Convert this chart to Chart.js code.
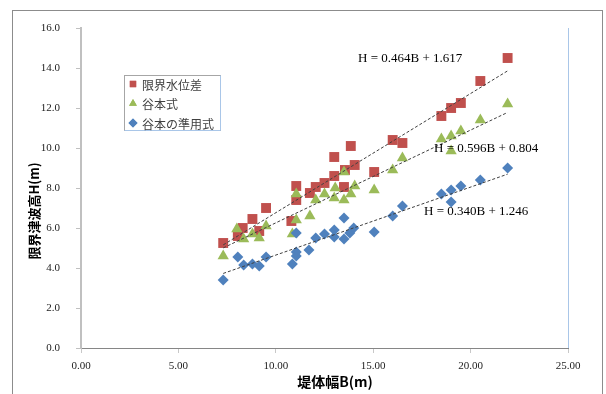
<!DOCTYPE html>
<html>
<head>
<meta charset="utf-8">
<script src="https://cdn.jsdelivr.net/npm/chart.js@4.4.0/dist/chart.umd.min.js"></script>
<style>
  html, body { margin: 0; padding: 0; background: #fff; }
</style>
</head>
<body>
<canvas id="chart" width="606" height="394"></canvas>
<script>
    "use strict";

    // Series names (legend order)
    var seriesNames = ["限界水位差", "谷本式", "谷本の準用式"];

    // 限界水位差 (red squares)
    var redB = [7.3, 8.05, 8.3, 8.8, 9.15, 9.5, 10.8, 11.05, 11.05, 11.75, 12.05, 12.5, 13.0,
                13.0, 13.5, 13.55, 13.85, 14.05, 15.05, 16.0, 16.5, 18.5, 19.0, 19.5, 20.5, 21.9];
    var redH = [5.25, 5.6, 6.0, 6.45, 5.85, 7.0, 6.35, 7.4, 8.1, 7.75, 8.05, 8.25, 8.6,
                9.55, 8.05, 8.9, 10.1, 9.15, 8.8, 10.4, 10.25, 11.6, 12.0, 12.25, 13.35, 14.5];

    // 谷本式 (green triangles)
    var greenB = [7.3, 8.0, 8.35, 8.8, 9.15, 9.5, 10.85, 11.05, 11.05, 11.75, 12.05, 12.5, 13.0,
                  13.05, 13.5, 13.5, 13.85, 14.05, 15.05, 16.0, 16.5, 18.5, 19.0, 19.0, 19.5, 20.5, 21.9];
    var greenH = [4.6, 5.95, 5.45, 5.7, 5.5, 6.1, 5.7, 6.4, 7.7, 6.6, 7.4, 7.7, 7.5,
                  8.0, 7.4, 8.8, 7.7, 8.1, 7.9, 8.9, 9.5, 10.45, 10.6, 9.85, 10.85, 11.4, 12.2];

    // 谷本の準用式 (blue diamonds)
    var blueB = [7.3, 8.05, 8.35, 8.8, 9.15, 9.5, 10.85, 11.05, 11.05, 11.05, 11.7, 12.05, 12.5, 13.0,
                 13.0, 13.5, 13.5, 13.8, 14.0, 15.05, 16.0, 16.5, 18.5, 19.0, 19.0, 19.5, 20.5, 21.9];
    var blueH = [3.4, 4.55, 4.15, 4.2, 4.1, 4.55, 4.2, 4.6, 4.8, 5.75, 4.9, 5.5, 5.7, 5.55,
                 5.9, 5.45, 6.5, 5.75, 6.0, 5.8, 6.6, 7.1, 7.7, 7.9, 7.3, 8.1, 8.4, 9.0];

    // Trendline equations shown on the chart (H = a*B + b)
    var trendSlope = [0.596, 0.464, 0.340];
    var trendIntercept = [0.804, 1.617, 1.246];

    // Axis tick labels
    var xTicks = [0, 5, 10, 15, 20, 25];
    var yTicks = [0, 2, 4, 6, 8, 10, 12, 14, 16];

    var colors = ["#C0504D", "#9BBB59", "#4F81BD"];
    var styles = ["rect", "triangle", "rectRot"];

    function points(xs, ys) {
        return xs.map(function (x, i) { return {x: x, y: ys[i]}; });
    }

    function trend(xs, i) {
        var lo = Math.min.apply(null, xs), hi = Math.max.apply(null, xs);
        return [
            {x: lo, y: trendSlope[i] * lo + trendIntercept[i]},
            {x: hi, y: trendSlope[i] * hi + trendIntercept[i]}
        ];
    }

    function eqText(i) {
        return "H = " + trendSlope[i].toFixed(3) + "B + " + trendIntercept[i].toFixed(3);
    }

    var allB = [redB, greenB, blueB];

    // Extra drawing: frame, legend box, equations, axis titles
    var decor = {
        id: "decor",
        beforeDraw: function (chart) {
            var c = chart.ctx;
            c.save();
            c.fillStyle = "#fff";
            c.fillRect(0, 0, chart.width, chart.height);
            c.strokeStyle = "#8c8c8c";
            c.lineWidth = 1;
            c.strokeRect(12.5, 10.5, 590, 400);
            c.restore();
        },
        afterDraw: function (chart) {
            var c = chart.ctx, a = chart.chartArea;
            var xs = chart.scales.x, ys = chart.scales.y;
            c.save();

            // plot area right edge
            c.strokeStyle = "#a9c6e8";
            c.lineWidth = 1;
            c.beginPath();
            c.moveTo(Math.round(a.right) + 0.5, a.top);
            c.lineTo(Math.round(a.right) + 0.5, a.bottom);
            c.stroke();

            // legend
            c.fillStyle = "#fff";
            c.fillRect(124, 75, 96, 55);
            c.strokeStyle = "#a6a6a6";
            c.strokeRect(124.5, 75.5, 96, 55);
            c.strokeStyle = "#a9c6e8";
            c.beginPath();
            c.moveTo(124.5, 130.5); c.lineTo(220.5, 130.5); c.lineTo(220.5, 75.5);
            c.stroke();
            c.font = "12px 'Noto Sans CJK JP'";
            c.textBaseline = "middle";
            c.textAlign = "left";
            for (var i = 0; i < seriesNames.length; i++) {
                var ly = 84 + i * 19.5;
                c.fillStyle = colors[i];
                Chart.helpers.drawPoint(c, {pointStyle: styles[i], radius: 4.5, rotation: 0, borderWidth: 0}, 133, ly);
                c.fill();
                c.fillStyle = "#404040";
                c.fillText(seriesNames[i], 142, ly + 1);
            }

            // trendline equations
            c.fillStyle = "#000";
            c.font = "13px 'Liberation Serif'";
            var eqPos = [[434, 149], [358, 59], [424, 212]];
            for (var j = 0; j < eqPos.length; j++) {
                c.fillText(eqText(j), eqPos[j][0], eqPos[j][1]);
            }

            // axis titles
            c.fillStyle = "#000";
            c.font = "bold 14px 'Noto Sans CJK JP'";
            c.textAlign = "center";
            c.fillText("堤体幅B(m)", 335, 382);
            c.translate(34, 211);
            c.rotate(-Math.PI / 2);
            c.font = "bold 13px 'Noto Sans CJK JP'";
            c.fillText("限界津波高H(m)", 0, 0);
            c.restore();
        }
    };

    var datasets = [];
    for (var k = 0; k < 3; k++) {
        datasets.push({
            label: "trend" + k,
            data: trend(allB[k], k),
            showLine: true,
            borderColor: "#404040",
            borderWidth: 1,
            borderDash: [3, 2],
            pointRadius: 0,
            order: 0
        });
    }
    var pts = [points(redB, redH), points(greenB, greenH), points(blueB, blueH)];
    var radii = [7, 6.5, 5.5];
    for (var m = 0; m < 3; m++) {
        datasets.push({
            label: seriesNames[m],
            data: pts[m],
            pointStyle: styles[m],
            pointRadius: radii[m],
            pointBackgroundColor: colors[m],
            pointBorderColor: colors[m],
            pointBorderWidth: 0,
            order: 3 - m
        });
    }

    var ctx = document.getElementById("chart").getContext("2d");
    var myChart = new Chart(ctx, {
        type: "scatter",
        data: {datasets: datasets},
        options: {
            responsive: false,
            animation: false,
            layout: {padding: {left: 0, top: 28, right: 38, bottom: 0}},
            plugins: {legend: {display: false}, tooltip: {enabled: false}},
            scales: {
                x: {
                    min: 0, max: 25,
                    afterFit: function (s) { s.height = 46; },
                    afterBuildTicks: function (s) { s.ticks = xTicks.map(function (v) { return {value: v}; }); },
                    ticks: {
                        padding: 7,
                        color: "#222",
                        font: {family: "'Liberation Serif'", size: 11},
                        callback: function (v) { return Number(v).toFixed(2); }
                    },
                    grid: {drawOnChartArea: false, drawTicks: true, tickLength: 5, color: "#c8c8c8"},
                    border: {display: true, color: "#868686", width: 1}
                },
                y: {
                    min: 0, max: 16,
                    afterFit: function (s) { s.width = 81; },
                    afterBuildTicks: function (s) { s.ticks = yTicks.map(function (v) { return {value: v}; }); },
                    ticks: {
                        padding: 16,
                        color: "#222",
                        font: {family: "'Liberation Serif'", size: 11},
                        callback: function (v) { return Number(v).toFixed(1); }
                    },
                    grid: {drawOnChartArea: false, drawTicks: true, tickLength: 5, color: "#c0c0c0"},
                    border: {display: true, color: "#c0c0c0", width: 2}
                }
            }
        },
        plugins: [decor]
    });
</script>
</body>
</html>
